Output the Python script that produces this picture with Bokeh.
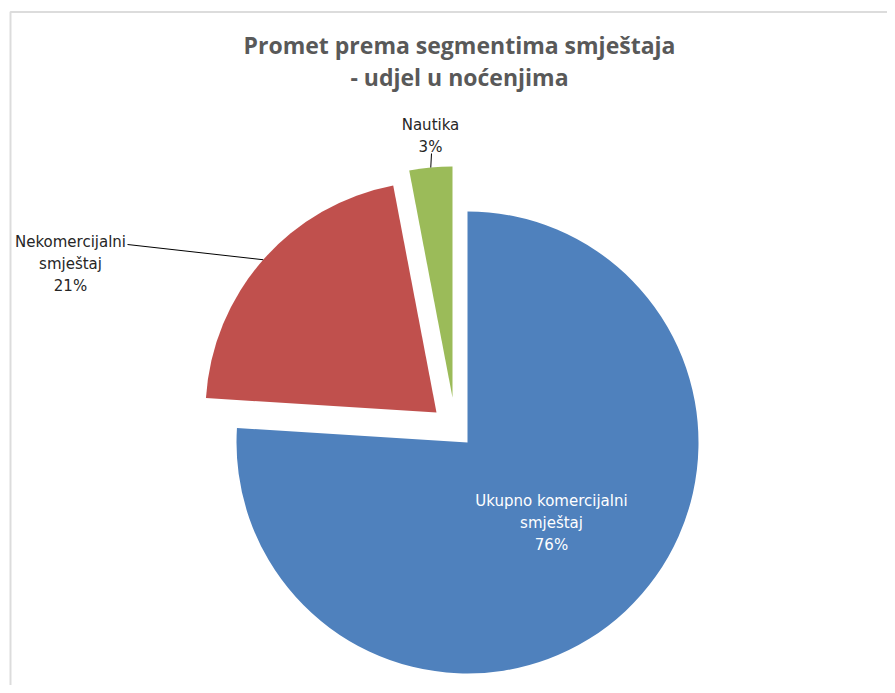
import math
from bokeh.plotting import figure
from bokeh.models import Range1d, BoxAnnotation
from bokeh.core.properties import value
from bokeh.embed import file_html
from bokeh.resources import INLINE

# ---- data ----
categories = ["Ukupno komercijalni smještaj", "Nekomercijalni smještaj", "Nautika"]
shares = [76, 21, 3]
label_lines = [["Ukupno komercijalni", "smještaj", "76%"],
               ["Nekomercijalni", "smještaj", "21%"],
               ["Nautika", "3%"]]
title_lines = ["Promet prema segmentima smještaja", "- udjel u noćenjima"]

# ---- style ----
colors = ["#4F81BD", "#C0504D", "#9BBB59"]
label_colors = ["#FFFFFF", "#262626", "#262626"]
W, H = 887, 685
cx, cy = 467, -442          # pie centre (page px, y negated)
R = 231
explode = [(0, 0), (-31, 30), (-15, 45)]
label_pos = [(551, -500), (70, -241), (430, -124)]
leader_start = [None, (127, -244), (431, -153)]
line_gap = 22

p = figure(width=W, height=H, output_backend="svg", toolbar_location=None,
           x_range=Range1d(0, W), y_range=Range1d(-H, 0),
           min_border=0)
p.axis.visible = False
p.grid.visible = False
p.outline_line_color = None
p.background_fill_color = "white"

# frame border (top & left visible)
p.add_layout(BoxAnnotation(left=10, right=2000, top=-11.5, bottom=-2000,
                           fill_alpha=0, line_color="#8C8C8C", line_width=2))

total = sum(shares)
cum = 0
for i, s in enumerate(shares):
    a0 = math.radians(90 - cum / total * 360)
    a1 = math.radians(90 - (cum + s) / total * 360)
    mid = (a0 + a1) / 2
    cum += s
    ox, oy = cx + explode[i][0], cy + explode[i][1]
    p.wedge(x=[ox], y=[oy], radius=R, start_angle=[a1], end_angle=[a0],
            fill_color=colors[i], line_color=None)
    if leader_start[i] is not None:
        ex, ey = ox + R * math.cos(mid), oy + R * math.sin(mid)
        sx, sy = leader_start[i]
        p.line([sx, ex], [sy, ey], line_color="#000000", line_width=1)
    lx, ly = label_pos[i]
    lines = label_lines[i]
    p.text(x=[lx] * len(lines), y=[ly - k * line_gap for k in range(len(lines))],
           text=lines, text_align="center", text_baseline="middle",
           text_font=value("DejaVu Sans"), text_font_size="15px",
           text_color=label_colors[i])

p.text(x=[459, 459], y=[-44, -76], text=title_lines, text_align="center",
       text_baseline="middle", text_font=value("Open Sans"),
       text_font_style="bold", text_font_size="23px", text_color="#595959")

open("out.html", "w").write(file_html(p, INLINE))
